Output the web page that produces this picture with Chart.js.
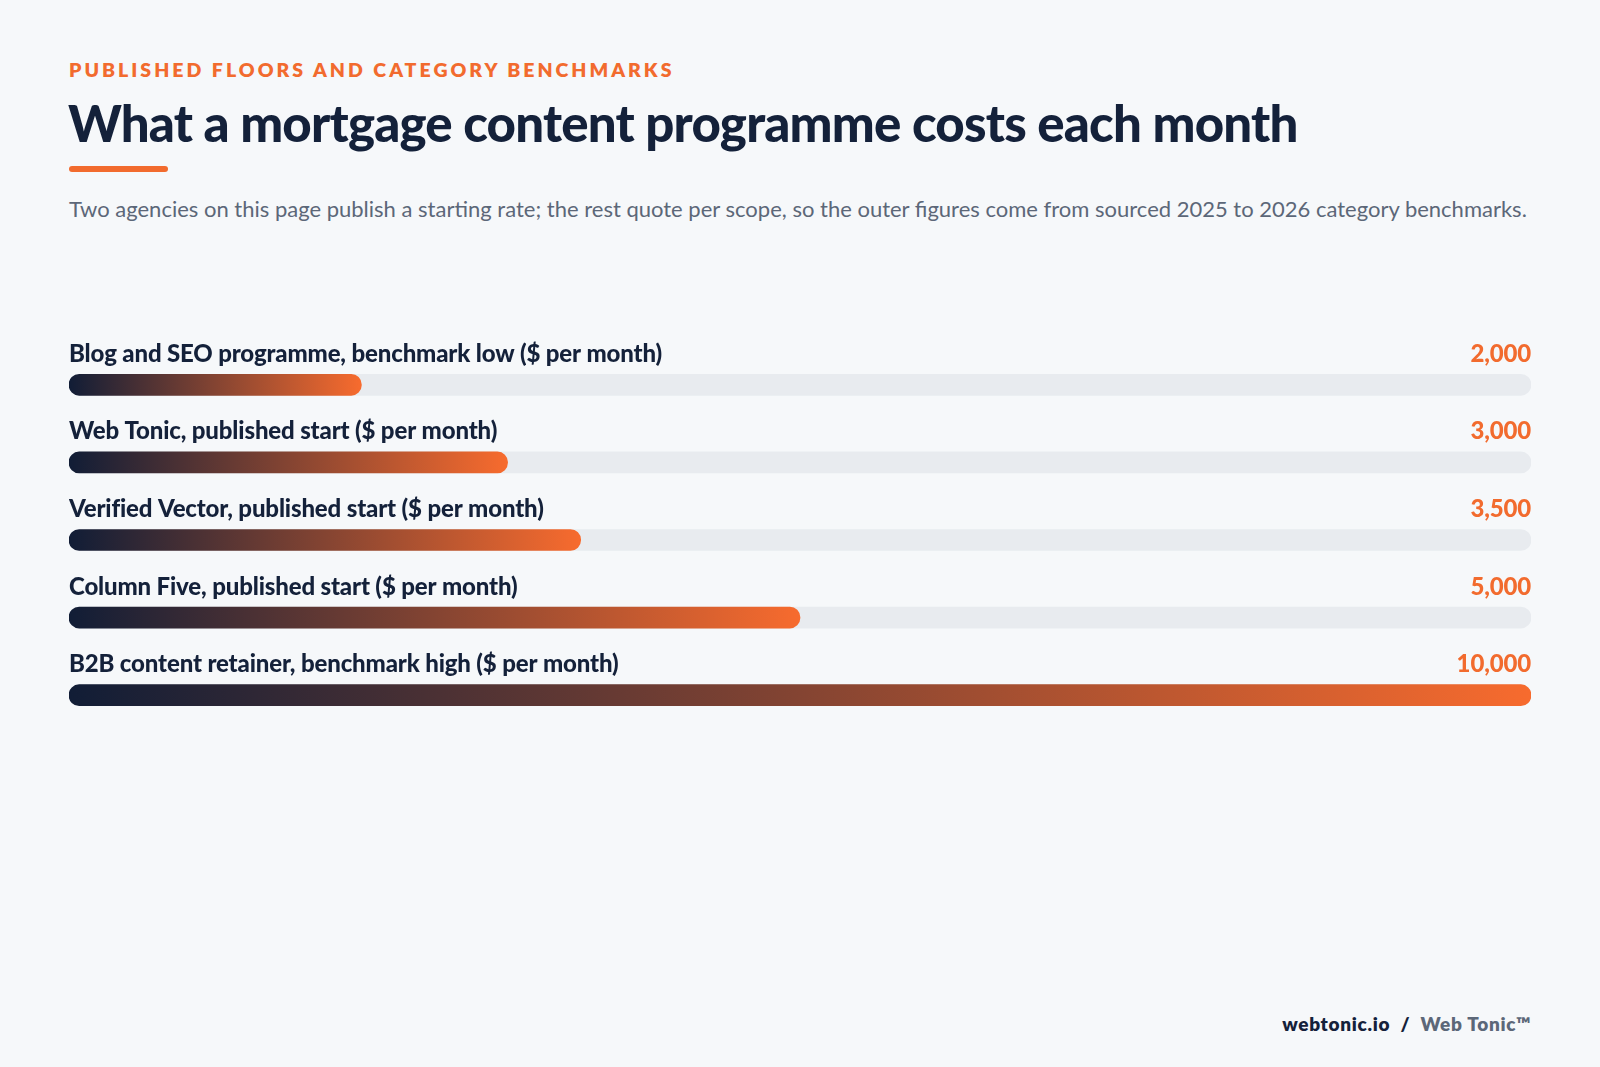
<!DOCTYPE html>
<html><head><meta charset="utf-8">
<script src="https://cdn.jsdelivr.net/npm/chart.js@4"></script>
<style>
body{margin:0;width:1600px;height:1067px;background:#f6f8fa;font-family:Lato,sans-serif;position:relative;overflow:hidden}
.kick{position:absolute;left:69px;top:58px;color:#f26b2e;font-weight:800;font-size:19.5px;letter-spacing:3px}
h1{position:absolute;left:68px;top:92px;margin:0;color:#14213a;font-weight:900;font-size:51px;letter-spacing:-0.8px}
.rule{position:absolute;left:69px;top:166px;width:99px;height:6px;border-radius:3px;background:#f26b2e}
.sub{position:absolute;left:69px;top:195px;color:#5c6778;font-size:22px;letter-spacing:0}
.foot{position:absolute;right:69px;top:1012px;font-size:19px;font-weight:800;color:#14213a;letter-spacing:.7px}
.foot span{color:#5c6778}
#wrap{position:absolute;left:69px;top:300px;width:1462px;height:480px}
</style></head><body>
<div class="kick">PUBLISHED FLOORS AND CATEGORY BENCHMARKS</div>
<h1>What a mortgage content programme costs each month</h1>
<div class="rule"></div>
<div class="sub">Two agencies on this page publish a starting rate; the rest quote per scope, so the outer figures come from sourced 2025 to 2026 category benchmarks.</div>
<div id="wrap"><canvas id="c"></canvas></div>
<div class="foot">webtonic.io &nbsp;/&nbsp; <span>Web Tonic™</span></div>
<script>
const categories=["Blog and SEO programme, benchmark low ($ per month)","Web Tonic, published start ($ per month)","Verified Vector, published start ($ per month)","Column Five, published start ($ per month)","B2B content retainer, benchmark high ($ per month)"];
const values=[2000,3000,3500,5000,10000];
const maxValue=10000;
const track=categories.map(()=>maxValue);
function grad(ctx){
  const ch=ctx.chart, a=ch.chartArea; if(!a) return '#f26b2e';
  const x1=ch.scales.x.getPixelForValue(values[ctx.dataIndex]);
  const g=ch.ctx.createLinearGradient(a.left,0,x1,0);
  g.addColorStop(0,'#111d36');g.addColorStop(1,'#f76b2e');return g;
}
const labelsPlugin={id:'lbl',afterDatasetsDraw(ch){
  const c=ch.ctx,y=ch.scales.y,a=ch.chartArea;
  c.save();c.font='900 24px Lato';c.textBaseline='alphabetic';c.letterSpacing='-0.15px';
  categories.forEach((t,i)=>{const py=y.getPixelForValue(i)-23;
    c.fillStyle='#14213a';c.textAlign='left';c.fillText(t,a.left,py);
    c.fillStyle='#f26b2e';c.textAlign='right';c.fillText(values[i].toLocaleString('en-US'),a.right,py);});
  c.restore();}};
new Chart(document.getElementById('c'),{type:'bar',
 data:{labels:categories,datasets:[
  {data:values,backgroundColor:grad,barThickness:21,borderRadius:11,borderSkipped:false,grouped:false,order:0},
  {data:track,backgroundColor:'#e8ebef',barThickness:21,borderRadius:11,borderSkipped:false,grouped:false,order:1}]},
 options:{indexAxis:'y',responsive:true,maintainAspectRatio:false,animation:false,
  layout:{padding:{top:46,bottom:46,left:0,right:0}},
  plugins:{legend:{display:false},tooltip:{enabled:false}},
  scales:{x:{display:false,min:0,max:maxValue},y:{display:false}}},
 plugins:[labelsPlugin]});
</script></body></html>
